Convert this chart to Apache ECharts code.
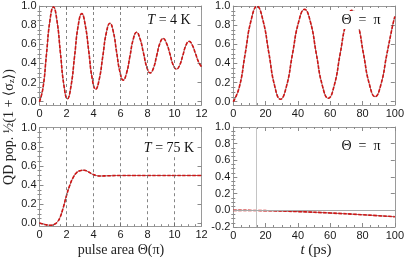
<!DOCTYPE html>
<html><head><meta charset="utf-8">
<script src="https://cdn.jsdelivr.net/npm/echarts@6/dist/echarts.min.js"></script>
<style>html,body{margin:0;padding:0;background:#fff}#c{width:407px;height:257px}</style>
</head><body><div id="c"></div>
<script>
// ---- data ----
// T = 4 K : population vs pulse area
const theta4K = [0,0.26,0.515,0.77,1.03,1.29,1.55,1.81,2.07,2.33,2.60,2.86,3.13,3.39,3.65,3.9,4.16,4.42,4.69,4.95,5.22,5.47,5.71,5.96,6.2,6.45,6.7,6.94,7.19,7.44,7.7,7.95,8.2,8.44,8.68,8.92,9.16,9.41,9.66,9.9,10.15,10.38,10.62,10.85,11.08,11.32,11.56,11.8,12];
const pop4K = [0,0.145,0.495,0.845,0.99,0.85,0.51,0.17,0.03,0.16,0.475,0.79,0.92,0.80,0.525,0.245,0.13,0.23,0.475,0.72,0.82,0.73,0.52,0.31,0.225,0.30,0.475,0.65,0.725,0.66,0.51,0.36,0.30,0.35,0.48,0.61,0.66,0.61,0.50,0.385,0.34,0.38,0.485,0.59,0.63,0.59,0.50,0.41,0.365];
// Theta = pi : population vs time (top)
const tPi = [0,3.7,7.35,11.0,14.7,18.3,22.0,25.6,29.2,32.9,36.6,40.4,44.1,47.8,51.4,55.1,58.8,62.5,66.1,69.8,73.4,77.0,80.6,84.2,87.8,91.4,95.0,98.7,100];
const popPi = [0,0.15,0.5,0.85,0.995,0.855,0.51,0.165,0.025,0.16,0.495,0.83,0.965,0.83,0.50,0.17,0.035,0.17,0.495,0.82,0.955,0.82,0.50,0.185,0.052,0.18,0.49,0.80,0.89];
// T = 75 K : population vs pulse area
const theta75K = [0,0.4,0.8,1.1,1.3,1.5,1.75,2.0,2.25,2.5,2.75,3.0,3.3,3.6,3.9,4.2,4.5,5,6,7,8,9,10,11,12];
const pop75K = [0.003,-0.012,-0.02,-0.01,0.012,0.055,0.16,0.29,0.40,0.48,0.53,0.55,0.555,0.54,0.515,0.50,0.495,0.497,0.5,0.5,0.5,0.5,0.5,0.5,0.5];
// Theta = pi : population vs time (bottom)
const tPiHot = [0,20,40,60,80,100];
const popPiHot = [0,-0.004,-0.015,-0.032,-0.053,-0.077];
// guide lines
const guideTheta = [2,4,6,8,10];
const pulseCenter = [14.5];
const zeroLine = [0];
// tick labels
const xTicksTheta = [0,2,4,6,8,10,12];
const xTicksT = [0,20,40,60,80,100];
const yTicksMain = [0,0.2,0.4,0.6,0.8,1.0];
const yTicksHot = [-0.2,0,0.2,0.4,0.6,0.8,1.0];

// ---- chart ----
const SANS = '"Liberation Sans", Arial, sans-serif';
const SERIF = '"Liberation Serif", "DejaVu Serif", serif';
const FRAME = '#9a9a9a';
const TICK = '#8a8a8a';
const LABEL = '#1a1a1a';

const panels = [
  {grid:{left:39.5, top:6, width:162, height:99}, xt:xTicksTheta, yMin:-0.035, yMax:1, yt:yTicksMain, xs:theta4K, ys:pop4K, vx:guideTheta, vstyle:'dash', hy:[]},
  {grid:{left:233.3, top:6, width:162.5, height:99}, xt:xTicksT, yMin:-0.035, yMax:1, yt:yTicksMain, xs:tPi, ys:popPi, vx:pulseCenter, vstyle:'light', hy:[]},
  {grid:{left:39.5, top:127.7, width:162, height:98.5}, xt:xTicksTheta, yMin:-0.03, yMax:1, yt:yTicksMain, xs:theta75K, ys:pop75K, vx:guideTheta, vstyle:'dash', hy:[]},
  {grid:{left:233.3, top:127, width:162.5, height:100}, xt:xTicksT, yMin:-0.2, yMax:1, yt:yTicksHot, xs:tPiHot, ys:popPiHot, vx:pulseCenter, vstyle:'light', hy:zeroLine}
];

const grids = [], xAxes = [], yAxes = [], series = [];
panels.forEach((p, gi) => {
  grids.push(Object.assign({containLabel:false}, p.grid));
  const xmin = p.xt[0], xmax = p.xt[p.xt.length-1], xint = p.xt[1]-p.xt[0];
  const minors = [];
  for (let k = Math.ceil(p.yMin/0.05 - 1e-9); k <= Math.floor(p.yMax/0.05 + 1e-9); k++) {
    const v = Math.round(k*5)/100;
    if (Math.abs(Math.round(v*5) - v*5) > 1e-6) minors.push(v);
  }
  ['bottom','top'].forEach(pos => {
    xAxes.push({
      gridIndex: gi, type:'value', position: pos, min: xmin, max: xmax, interval: xint,
      axisLine:{show:true, onZero:false, lineStyle:{color:FRAME, width:1}},
      axisTick:{show:true, inside:true, length:4, lineStyle:{color:TICK, width:1}},
      minorTick:{show:true, splitNumber:4, length:2, lineStyle:{color:TICK, width:1}},
      axisLabel:{show: pos==='bottom', margin:3, fontSize:11, fontFamily:SANS, color:LABEL},
      splitLine:{show:false}, minorSplitLine:{show:false}
    });
  });
  ['left','right'].forEach(pos => {
    yAxes.push({
      gridIndex: gi, type:'value', position: pos, min: p.yMin, max: p.yMax,
      axisLine:{show:true, onZero:false, lineStyle:{color:FRAME, width:1}},
      axisTick:{show:true, inside:true, length:4, customValues:p.yt, lineStyle:{color:TICK, width:1}},
      axisLabel:{show: pos==='left', margin:3, fontSize:11, fontFamily:SANS, color:LABEL,
                 customValues:p.yt, formatter: v => v.toFixed(1)},
      splitLine:{show:false}
    });
    yAxes.push({
      gridIndex: gi, type:'value', position: pos, min: p.yMin, max: p.yMax,
      axisLine:{show:false},
      axisTick:{show:true, inside:true, length:2, customValues:minors, lineStyle:{color:TICK, width:1}},
      axisLabel:{show:false}, splitLine:{show:false}
    });
  });
  const xi = gi*2, yi = gi*4;
  const guideStyle = p.vstyle === 'dash'
    ? {color:'#666', type:[3,3], width:0.8}
    : {color:'#c4c4c4', type:'solid', width:1};
  const mlData = p.vx.map(v => ({xAxis:v})).concat(p.hy.map(v => ({yAxis:v})));
  series.push({
    type:'line', xAxisIndex:xi, yAxisIndex:yi, data:[], z:1, silent:true,
    markLine:{silent:true, symbol:['none','none'], label:{show:false}, animation:false,
      lineStyle: guideStyle,
      data: mlData.map(d => d.yAxis !== undefined ? Object.assign({lineStyle:{color:'#a8a8a8', type:'solid', width:1}}, d) : d)}
  });
  const pts = p.xs.map((x, i) => [x, p.ys[i]]);
  series.push({type:'line', xAxisIndex:xi, yAxisIndex:yi, data:pts, smooth:0.5, showSymbol:false, z:2,
    lineStyle:{color:'#6a1a1a', width:0.7}});
  series.push({type:'line', xAxisIndex:xi, yAxisIndex:yi, data:pts, smooth:0.5, showSymbol:false, z:3,
    lineStyle:{color:'#d01515', width:1.6, type:[3.5,1.5]}});
});

function label(text, x, y, rich) {
  return {type:'text', z:100, x:x, y:y,
    style:{text:text, x:0, y:0, align:'center', verticalAlign:'middle',
      fontSize:14, fontFamily:SERIF, fill:'#111', rich:rich,
      backgroundColor:'#fff', padding:[2,3]}};
}
const richT = {i:{fontStyle:'italic', fontSize:14, fontFamily:SERIF, fill:'#111'},
               n:{fontSize:14, fontFamily:SERIF, fill:'#111'}};

const option = {
  animation:false,
  backgroundColor:'#fff',
  grid: grids, xAxis: xAxes, yAxis: yAxes, series: series,
  graphic: [
    label('{i|T}{n| = 4 K}', 169, 20, richT),
    label('{n|Θ  =  π}', 361, 20, richT),
    label('{i|T}{n| = 75 K}', 169, 148, richT),
    label('{n|Θ  =  π}', 361, 146, richT),
    {type:'text', z:100, x:121, y:250,
      style:{text:'pulse area Θ(π)', x:0, y:0, align:'center', verticalAlign:'middle', fontSize:14, fontFamily:SERIF, fill:'#222'}},
    {type:'text', z:100, x:316, y:250,
      style:{text:'{i|t} {n|(ps)}', x:0, y:0, align:'center', verticalAlign:'middle', fontSize:14, fontFamily:SERIF, fill:'#222',
        rich:{i:{fontStyle:'italic', fontSize:15, fontFamily:SERIF, fill:'#222'}, n:{fontSize:15, fontFamily:SERIF, fill:'#222'}}}},
    {type:'text', z:100, x:9, y:127, rotation:Math.PI/2,
      style:{text:'{n|QD pop. ½(1 + ⟨σ}{s|z}{n|⟩)}', x:0, y:0, align:'center', verticalAlign:'middle',
        fontSize:14, fontFamily:SERIF, fill:'#222',
        rich:{n:{fontSize:14, fontFamily:SERIF, fill:'#222'},
              s:{fontSize:9, fontFamily:SERIF, fill:'#222', padding:[5,0,0,0]}}}}
  ]
};
const chart = echarts.init(document.getElementById('c'));
chart.setOption(option);
</script></body></html>
